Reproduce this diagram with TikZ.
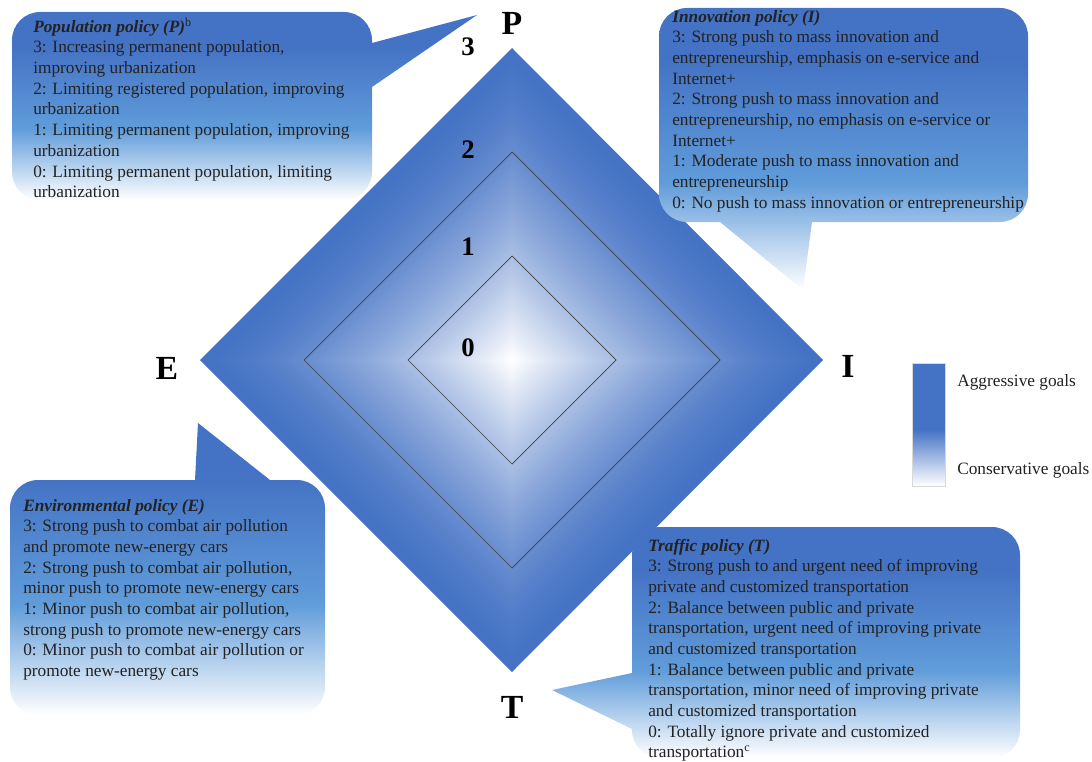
\documentclass[tikz,border=0pt]{standalone}
\usepackage{fontspec}
\setmainfont{Liberation Serif}
\usepackage{xcolor}
\usepackage{tikz}
\definecolor{goalblue}{RGB}{68,114,196}
\definecolor{midblue}{RGB}{96,156,218}
\definecolor{inktext}{RGB}{34,34,34}
\pgfdeclarefunctionalshading{diamondshade}{\pgfpoint{-50bp}{-50bp}}{\pgfpoint{50bp}{50bp}}{}{
  abs exch abs add 25 div dup 1 gt {pop 1} if 1 exch sub dup sqrt mul
  dup 0.733 mul 0.267 add exch
  dup 0.553 mul 0.447 add exch
  0.231 mul 0.769 add
}
\pgfdeclareverticalshading{calloutshade}{100bp}{color(0bp)=(white); color(25bp)=(white); color(44bp)=(midblue); color(66bp)=(goalblue); color(100bp)=(goalblue)}
\pgfdeclareverticalshading{legendshade}{100bp}{color(0bp)=(white); color(25bp)=(white); color(48bp)=(goalblue); color(100bp)=(goalblue)}

\begin{document}
\begin{tikzpicture}[x=0.025cm, y=-0.025cm,
    policytext/.style={anchor=north west, inner sep=0pt, align=left, text=inktext, font=\fontsize{12.3}{14.7}\selectfont},
    axisletter/.style={inner sep=0pt, font=\fontsize{24}{28}\selectfont\bfseries},
    levelnum/.style={inner sep=0pt, font=\fontsize{19}{22}\selectfont\bfseries},
    bubble/.style={shading=calloutshade, rounded corners=20pt},
    ringline/.style={draw=black!75, line width=0.5pt}]

\useasboundingbox (0,0) rectangle (1092,762);

% Diamond
\shade[shading=diamondshade] (512,48) -- (823,360) -- (512,672) -- (200,360) -- cycle;
\foreach \r in {104,208}
{
    \draw[ringline] (512,360-\r) -- (512+\r,360) -- (512,360+\r) -- (512-\r,360) -- cycle;
}

% Levels
\foreach \n/\y in {0/348,1/247,2/150,3/47}
{
    \node[levelnum] (lvl\n) at (468,\y) {\n};
}

% Axes
\node[axisletter] (P) at (512,23) {P};
\node[axisletter] (E) at (167,368) {E};
\node[axisletter] (I) at (848,366) {I};
\node[axisletter] (T) at (512,707) {T};

% Callouts
\shade[bubble] (12,100) -- (12,12) -- (372,12) [sharp corners] -- (372,43) -- (477,15) -- (372,87) [rounded corners=20pt] -- (372,200) -- (12,200) -- cycle;
\shade[bubble] (659,100) -- (659,8) -- (1028,8) -- (1028,222) [sharp corners] -- (812,222) -- (803,290) -- (720,222) [rounded corners=20pt] -- (659,222) -- cycle;
\shade[bubble] (10,600) -- (10,480) [sharp corners] -- (195,480) -- (198,423) -- (270,480) [rounded corners=20pt] -- (325,480) -- (325,715) -- (10,715) -- cycle;
\shade[bubble] (830,527) -- (1020,527) -- (1020,758) -- (632,758) [sharp corners] -- (632,729) -- (552,690) -- (632,673) [rounded corners=20pt] -- (632,527) -- cycle;

% Texts
\node[policytext] (popText) at (33,17.5) {\strut\textbf{\textit{Population policy (P)}}\textsuperscript{b}\\
3: Increasing permanent population,\\
improving urbanization\\
2: Limiting registered population, improving\\
urbanization\\
1: Limiting permanent population, improving\\
urbanization\\
0: Limiting permanent population, limiting\\
urbanization};

\node[policytext] (innText) at (672,7.5) {\strut\textbf{\textit{Innovation policy (I)}}\\
3: Strong push to mass innovation and\\
entrepreneurship, emphasis on e-service and\\
Internet+\\
2: Strong push to mass innovation and\\
entrepreneurship, no emphasis on e-service or\\
Internet+\\
1: Moderate push to mass innovation and\\
entrepreneurship\\
0: No push to mass innovation or entrepreneurship};

\node[policytext] (envText) at (23,496.5) {\strut\textbf{\textit{Environmental policy (E)}}\\
3: Strong push to combat air pollution\\
and promote new-energy cars\\
2: Strong push to combat air pollution,\\
minor push to promote new-energy cars\\
1: Minor push to combat air pollution,\\
strong push to promote new-energy cars\\
0: Minor push to combat air pollution or\\
promote new-energy cars};

\node[policytext] (trfText) at (648,536.5) {\strut\textbf{\textit{Traffic policy (T)}}\\
3: Strong push to and urgent need of improving\\
private and customized transportation\\
2: Balance between public and private\\
transportation, urgent need of improving private\\
and customized transportation\\
1: Balance between public and private\\
transportation, minor need of improving private\\
and customized transportation\\
0: Totally ignore private and customized\\
transportation\textsuperscript{c}};

% Legend
\shade[shading=legendshade, draw=black!15, line width=0.4pt] (912,363) rectangle (945,486);
\node[policytext, anchor=west] (aggr) at (957,382) {Aggressive goals};
\node[policytext, anchor=west] (cons) at (957,470) {Conservative goals};

\end{tikzpicture}
\end{document}
